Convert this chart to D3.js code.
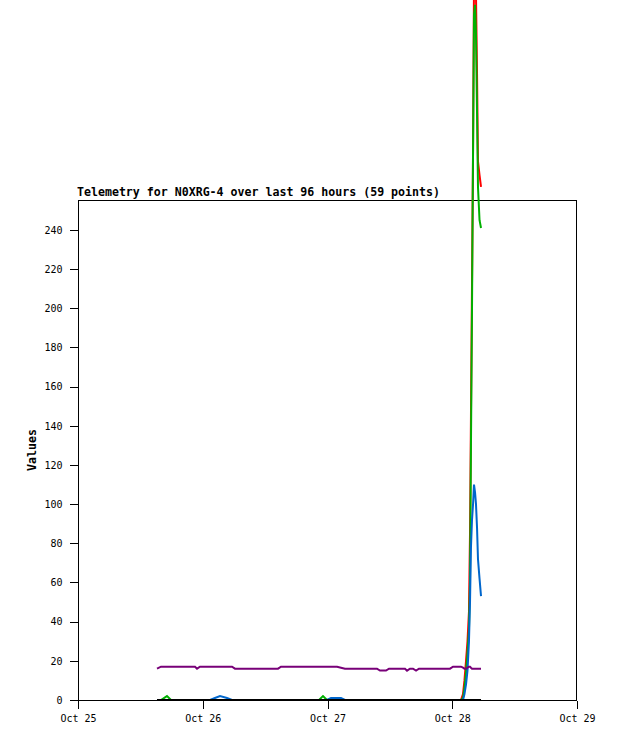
<!DOCTYPE html>
<html><head><meta charset="utf-8">
<script src="https://cdn.jsdelivr.net/npm/d3@7/dist/d3.min.js"></script>
<style>body{margin:0;background:#fff}svg{display:block}</style>
</head><body><svg id="c" width="618" height="741"></svg>
<script>
const title = "Telemetry for N0XRG-4 over last 96 hours (59 points)";
const yLabel = "Values";
const times = [
 "2023-10-25T15:12","2023-10-25T15:58","2023-10-25T17:07","2023-10-25T17:54","2023-10-25T19:37",
 "2023-10-25T21:21","2023-10-25T22:31","2023-10-25T22:54","2023-10-25T23:28","2023-10-26T01:24",
 "2023-10-26T02:21","2023-10-26T03:19","2023-10-26T04:40","2023-10-26T05:38","2023-10-26T06:12",
 "2023-10-26T09:05","2023-10-26T11:59","2023-10-26T14:29","2023-10-26T15:03","2023-10-26T17:45",
 "2023-10-26T20:38","2023-10-26T22:22","2023-10-26T23:08","2023-10-26T23:54","2023-10-27T00:40",
 "2023-10-27T01:50","2023-10-27T02:36","2023-10-27T03:22","2023-10-27T06:15","2023-10-27T09:31",
 "2023-10-27T10:06","2023-10-27T11:15","2023-10-27T11:50","2023-10-27T14:55","2023-10-27T15:18",
 "2023-10-27T15:52","2023-10-27T16:27","2023-10-27T17:02","2023-10-27T17:36","2023-10-27T20:41",
 "2023-10-27T23:34","2023-10-28T00:09","2023-10-28T01:41","2023-10-28T02:04","2023-10-28T02:21",
 "2023-10-28T02:39","2023-10-28T02:56","2023-10-28T03:13","2023-10-28T03:25","2023-10-28T03:36",
 "2023-10-28T03:48","2023-10-28T04:00","2023-10-28T04:11","2023-10-28T04:23","2023-10-28T04:34",
 "2023-10-28T04:46","2023-10-28T04:57","2023-10-28T05:15","2023-10-28T05:32"
];
const purpleValues = [
 16,17,17,17,17, 17,17,16,17,17, 17,17,17,17,16, 16,16,16,17,17,
 17,17,17,17,17, 17,16.5,16,16,16, 15,15,16,16,15, 16,16,15,16,16,
 16,17,17,16.5,16, 16,16.5,17,17,16.5, 16,16,16,16,16, 16,16,16,16
];
const redValues = [
 0,0,0,0,0, 0,0,0,0,0, 0,0,0,0,0, 0,0,0,0,0,
 0,0,0,0,0, 0,0,0,0,0, 0,0,0,0,0, 0,0,0,0,0,
 0,0,0,3,10, 20,30,45,85,145, 212,280,365,385,360, 320,275,268,262
];
const greenValues = [
 0,0,2,0,0, 0,0,0,0,0, 0,0,0,0,0, 0,0,0,0,0,
 0,0,2,0,0, 0,0,0,0,0, 0,0,0,0,0, 0,0,0,0,0,
 0,0,0,1,6, 14,24,36,60,130, 200,280,350,355,340, 300,262,245,241
];
const blueValues = [
 0,0,0,0,0, 0,0,0,0,0, 1,2,1,0,0, 0,0,0,0,0,
 0,0,0,0,1, 1,1,0,0,0, 0,0,0,0,0, 0,0,0,0,0,
 0,0,0,0,3, 8,15,30,50,78, 92,100,110,106,100, 88,72,62,53
];
const blackValues = times.map(() => 0);
const xTicks = ["2023-10-25","2023-10-26","2023-10-27","2023-10-28","2023-10-29"];
const yTicks = [0,20,40,60,80,100,120,140,160,180,200,220,240];

const parse = d3.timeParse("%Y-%m-%dT%H:%M");
const parseDay = d3.timeParse("%Y-%m-%d");
const dates = times.map(parse);

const L = 78, T = 200, W = 499, H = 500;
const svg = d3.select("#c");
svg.append("rect").attr("width",618).attr("height",741).attr("fill","#fff");

const x = d3.scaleTime().domain([parseDay(xTicks[0]), parseDay(xTicks[xTicks.length-1])]).range([L, L+W]);
const y = d3.scaleLinear().domain([0, 255.3]).range([T+H, T]);

const mono = "'DejaVu Sans Mono', 'Liberation Mono', monospace";

svg.append("rect").attr("x",L+0.5).attr("y",T+0.5).attr("width",W-1).attr("height",H)
  .attr("fill","none").attr("stroke","#000").attr("stroke-width",1).attr("shape-rendering","crispEdges");

const yAxis = svg.append("g").attr("transform",`translate(${L+0.5},0)`)
  .call(d3.axisLeft(y).tickValues(yTicks).tickSize(9).tickSizeOuter(0).tickPadding(7));
const xAxis = svg.append("g").attr("transform",`translate(0,${T+H+0.5})`)
  .call(d3.axisBottom(x).tickValues(xTicks.map(parseDay)).tickFormat(d3.timeFormat("%b %d")).tickSize(8).tickSizeOuter(0).tickPadding(6));
[yAxis, xAxis].forEach(a => {
  a.select(".domain").remove();
  a.selectAll("line").attr("stroke","#000").attr("shape-rendering","crispEdges");
  a.selectAll("text").attr("fill","#000").style("font-family",mono).style("font-size","10px");
});

const line = vals => d3.line().x((d,i) => x(dates[i])).y(d => y(d))(vals);
const series = [
  {vals: redValues, color: "#ff0000"},
  {vals: greenValues, color: "#00b000"},
  {vals: blueValues, color: "#0066cc"},
  {vals: purpleValues, color: "#780078"},
  {vals: blackValues, color: "#000000"}
];
svg.append("g").selectAll("path").data(series).join("path")
  .attr("d", s => line(s.vals)).attr("fill","none")
  .attr("stroke", s => s.color).attr("stroke-width", 2).attr("stroke-linejoin","miter");

svg.append("text").attr("x",77).attr("y",196).text(title)
  .style("font-family",mono).style("font-size","11.6px").style("font-weight","bold");
svg.append("text").attr("transform",`translate(36,${T+H/2}) rotate(-90)`).attr("text-anchor","middle")
  .text(yLabel).style("font-family",mono).style("font-size","11.6px").style("font-weight","bold");
</script>
</body></html>
